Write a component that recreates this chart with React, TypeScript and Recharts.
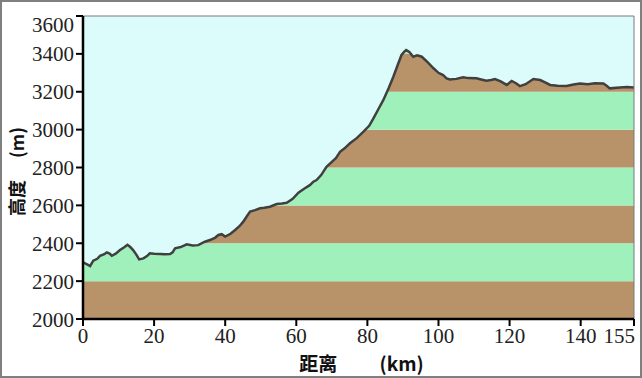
import {
  ComposedChart,
  Area,
  XAxis,
  YAxis,
  ReferenceArea,
  Label,
} from "recharts";

// ─── Data ────────────────────────────────────────────────────────────────────

const distanceKm = [
  0, 0.3, 1, 2, 2.9, 4, 4.8, 6, 6.7, 7.5, 8.1, 9.2, 10.4, 11.5, 12.5, 13.3,
  14.1, 15, 15.8, 17, 18, 18.8, 20, 21.7, 23, 24.5, 25.2, 25.9, 27.5, 29.2,
  30.8, 32.4, 34.3, 35.7, 36.2, 37.2, 38.1, 39, 40, 41.5, 42.8, 44, 45.1,
  46, 47, 48.4, 49.8, 51, 52.6, 54.5, 56, 57.3, 59, 60.6, 62.2, 63.9, 64.8,
  65.7, 67, 68.5, 70, 71.2, 72.3, 73.5, 75.1, 77, 78.9, 80.5, 81.7, 83, 84.5,
  86, 87.3, 88.5, 89.6, 90.4, 90.9, 91.8, 92.9, 94, 95.3, 97, 98.6, 100,
  101.3, 102.3, 103.2, 105, 106.9, 108.5, 110.7, 112, 113.5, 114.8, 115.9,
  117.5, 119.2, 120.6, 121.8, 122.9, 124.5, 126.7, 128.6, 130, 131.4, 133.5,
  136, 138, 139.8, 142, 144, 146.4, 147.3, 148.2, 151, 153, 155,
];

const elevationM = [
  2295, 2297, 2290, 2280, 2308, 2318, 2333, 2342, 2352, 2345, 2334, 2345, 2364,
  2378, 2392, 2380, 2364, 2340, 2315, 2320, 2332, 2347, 2345, 2343, 2342, 2343,
  2352, 2373, 2380, 2394, 2388, 2390, 2408, 2417, 2421, 2430, 2444, 2448, 2435,
  2450, 2470, 2490, 2514, 2540, 2567, 2575, 2585, 2588, 2593, 2607, 2610, 2614,
  2635, 2667, 2688, 2708, 2725, 2734, 2760, 2804, 2830, 2850, 2883, 2900, 2928,
  2955, 2989, 3020, 3060, 3105, 3157, 3220, 3279, 3340, 3394, 3412, 3420, 3410,
  3385, 3392, 3385, 3355, 3324, 3300, 3288, 3271, 3265, 3268, 3276, 3272, 3271,
  3265, 3258, 3262, 3267, 3255, 3236, 3257, 3245, 3230, 3240, 3267, 3262, 3250,
  3236, 3232, 3230, 3238, 3244, 3240, 3245, 3244, 3232, 3218, 3223, 3225, 3223,
];

const xTicks = [0, 20, 40, 60, 80, 100, 120, 140, 155];
const yTicks = [2000, 2200, 2400, 2600, 2800, 3000, 3200, 3400, 3600];

// elevation bands drawn under the profile, every 200 m
const bandEdges = [2000, 2200, 2400, 2600, 2800, 3000, 3200, 3400, 3600];

const profile = distanceKm.map((d, i) => ({ km: d, elev: elevationM[i] }));

// ─── Colours ────────────────────────────────────────────────────────────────

const SKY = "#dcfcfc";
const BROWN = "#b89268";
const GREEN = "#a0f0bc";
const LINE = "#404040";
const TICK_FONT = "'Liberation Serif', serif";
const LABEL_FONT = "'Noto Sans CJK SC', sans-serif";

// ─── Ticks & labels ─────────────────────────────────────────────────────────

function YTick({ x, y, payload }: any) {
  // the top label is pushed down so it stays inside the frame
  const shift = payload.value === 3600 ? 8 : 0;
  return (
    <text
      x={x}
      y={y + shift}
      dy="0.36em"
      textAnchor="end"
      fontSize={21}
      fontFamily={TICK_FONT}
      fill="#222"
    >
      {payload.value}
    </text>
  );
}

function XTick({ x, y, payload }: any) {
  const last = payload.value === 155;
  return (
    <text
      x={last ? x + 1 : x}
      y={y - 1}
      dy="0.76em"
      textAnchor={last ? "end" : "middle"}
      fontSize={21}
      fontFamily={TICK_FONT}
      fill="#222"
    >
      {payload.value}
    </text>
  );
}

function YTitle({ viewBox }: any) {
  const cx = viewBox.x - 7;
  const cy = viewBox.y + viewBox.height / 2 + 4;
  return (
    <text
      x={cx}
      y={cy}
      transform={`rotate(-90 ${cx} ${cy})`}
      textAnchor="middle"
      dominantBaseline="central"
      fontSize={18}
      fontWeight="bold"
      fontFamily={LABEL_FONT}
      fill="#111"
    >
      {"高度\u3000\u00a0(m)"}
    </text>
  );
}

function XTitle({ viewBox }: any) {
  const cx = viewBox.x + viewBox.width / 2 + 3;
  const cy = viewBox.y + 43;
  return (
    <text
      x={cx}
      y={cy}
      textAnchor="middle"
      dominantBaseline="central"
      fontSize={19}
      fontWeight="bold"
      fontFamily={LABEL_FONT}
      fill="#111"
    >
      {"距离\u3000\u3000\u00a0(km)"}
    </text>
  );
}

// ─── Chart ──────────────────────────────────────────────────────────────────

export default function App() {
  return (
    <div style={{ position: "absolute", left: 0, top: 0, width: 642, height: 378, background: "#fff" }}>
      <ComposedChart
        width={642}
        height={378}
        data={profile}
        margin={{ top: 16, right: 8, left: 23, bottom: 29 }}
      >
        <XAxis
          dataKey="km"
          type="number"
          domain={[0, 155]}
          ticks={xTicks}
          interval={0}
          height={30}
          axisLine={{ stroke: "#000", strokeWidth: 2.5 }}
          tickLine={{ stroke: "#000", strokeWidth: 2 }}
          tickSize={7}
          tick={<XTick />}
        >
          <Label content={<XTitle />} />
        </XAxis>
        <YAxis
          type="number"
          domain={[2000, 3600]}
          ticks={yTicks}
          interval={0}
          width={60}
          axisLine={{ stroke: "#000", strokeWidth: 2.5 }}
          tickLine={{ stroke: "#000", strokeWidth: 2 }}
          tickSize={7}
          tick={<YTick />}
        >
          <Label content={<YTitle />} />
        </YAxis>
        {bandEdges.slice(0, -1).map((lo, i) => (
          <ReferenceArea
            key={lo}
            x1={0}
            x2={155}
            y1={lo}
            y2={bandEdges[i + 1]}
            fill={i % 2 === 0 ? BROWN : GREEN}
            fillOpacity={1}
            stroke="none"
          />
        ))}
        <Area
          type="linear"
          dataKey="elev"
          baseValue={3600}
          fill={SKY}
          fillOpacity={1}
          stroke={LINE}
          strokeWidth={2.5}
          dot={false}
          activeDot={false}
          isAnimationActive={false}
        />
        <ReferenceArea
          x1={0}
          x2={155}
          y1={2000}
          y2={3600}
          fill="none"
          stroke="#7a7a7a"
          strokeWidth={1}
        />
      </ComposedChart>
      <div
        style={{
          position: "absolute",
          left: 0,
          top: 0,
          width: 642,
          height: 378,
          boxSizing: "border-box",
          border: "2px solid #7f7f7f",
          pointerEvents: "none",
        }}
      />
    </div>
  );
}
